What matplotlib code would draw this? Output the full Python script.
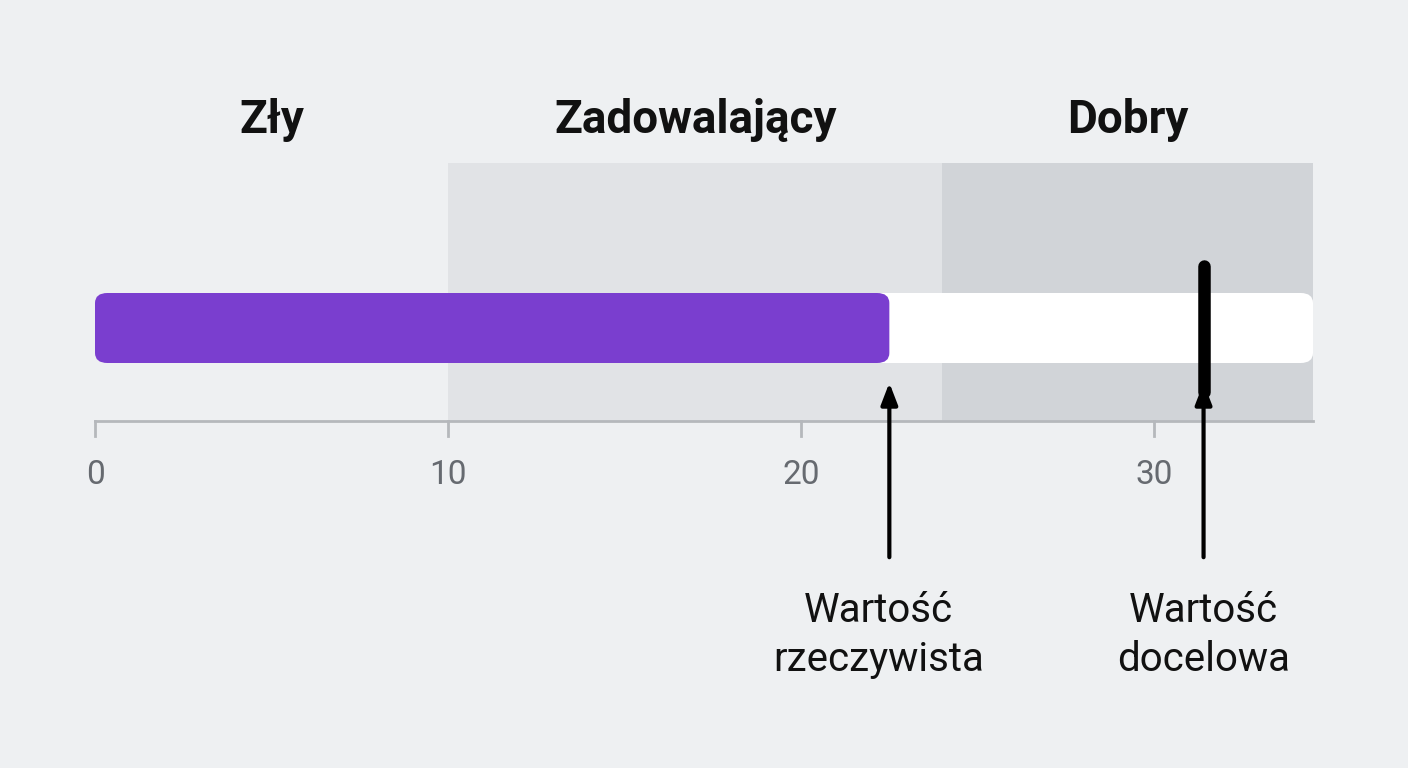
import matplotlib
matplotlib.use("Agg")
import matplotlib.pyplot as plt
from matplotlib.patches import FancyBboxPatch, Rectangle

plt.rcParams['font.family'] = ['Roboto', 'DejaVu Sans']

band_edges = [0, 10, 24, 34.5]
band_labels = ["Zły", "Zadowalający", "Dobry"]
band_colors = ["#eef0f2", "#e1e3e6", "#d1d4d8"]
actual = 22.5
target = 31.4
ticks = [0, 10, 20, 30]
ann_actual = "Wartość\nrzeczywista"
ann_target = "Wartość\ndocelowa"

bg = "#eef0f2"
fig = plt.figure(figsize=(14.08, 7.68), dpi=100, facecolor=bg)
ax = fig.add_axes([95/1408, 0, 1218/1408, 1])
ax.set_facecolor(bg)
ax.set_xlim(0, 34.5)
ax.set_ylim(768, 0)
ax.axis('off')

for i in range(3):
    a, b = band_edges[i], band_edges[i+1]
    ax.add_patch(Rectangle((a, 163), b - a, 258, color=band_colors[i], lw=0, zorder=1))
    ax.text((a + b) / 2 if i else 5, 120, band_labels[i], ha='center', va='center',
            fontsize=33, fontweight='bold', color='#111111', clip_on=False)

pad = 0.35
ax.add_patch(FancyBboxPatch((pad, 293 + 10), band_edges[-1] - 2*pad, 50,
             boxstyle="round,pad=0.35,rounding_size=0.35", mutation_aspect=10/0.35,
             fc='white', ec='none', zorder=2, clip_on=False))
ax.add_patch(FancyBboxPatch((pad, 293 + 10), actual - 2*pad, 50,
             boxstyle="round,pad=0.35,rounding_size=0.35", mutation_aspect=10/0.35,
             fc='#7a3ecf', ec='none', zorder=3, clip_on=False))
ax.plot([target, target], [266, 392], color='black', lw=9, solid_capstyle='round', zorder=4)

ax.plot([0, 34.5], [421, 421], color='#b5b8bc', lw=2, zorder=2, clip_on=False)
for t in ticks:
    ax.plot([t, t], [421, 436], color='#b5b8bc', lw=2, clip_on=False)
    ax.text(t, 475, str(t), ha='center', va='center', fontsize=24, color='#666a70', clip_on=False)

for x, lab in [(actual, ann_actual), (target, ann_target)]:
    ax.annotate('', xy=(x, 380), xytext=(x, 560),
                arrowprops=dict(arrowstyle='-|>,head_width=0.5,head_length=1.3', color='black', lw=3))
    ax.text(x + (-0.3 if x == actual else 0), 635, lab, ha='center', va='center', fontsize=29,
            color='#111111', linespacing=1.3)

fig.savefig("out.png", dpi=100, facecolor=bg)
